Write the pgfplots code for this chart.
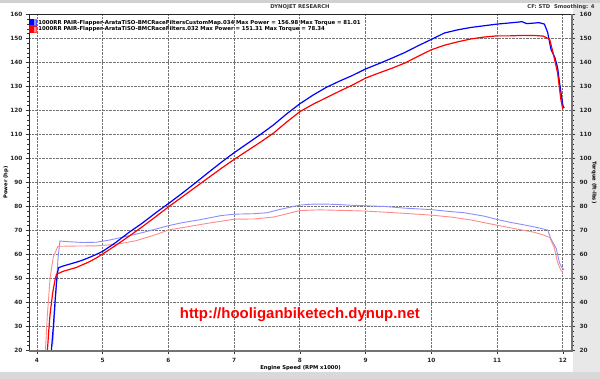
\documentclass[border=0pt]{standalone}
\usepackage{pgfplots}
\usepackage{pgfplotstable}
\pgfplotsset{compat=1.18}
\usepackage{fontspec}
\setmainfont{DejaVu Sans}
\newfontfamily\webfont{Liberation Sans}

\pgfplotstableread{
rpm hp
4.22 20
4.25 30
4.28 42
4.31 52
4.33 54.5
4.40 55.2
4.50 56.0
4.60 56.8
4.70 57.7
4.80 58.8
4.90 60.0
5.00 61.3
5.20 65.0
5.40 69.2
5.60 73.0
5.80 77.2
6.00 81.2
6.20 85.3
6.40 89.6
6.60 94.0
6.80 98.3
7.00 102.4
7.20 106.2
7.40 110.0
7.60 114.0
7.80 118.6
8.00 122.8
8.20 126.4
8.40 129.6
8.60 132.2
8.80 134.6
9.00 137.3
9.20 139.5
9.40 141.8
9.60 144.2
9.80 147.0
10.00 149.6
10.20 152.3
10.40 153.6
10.60 154.6
10.80 155.3
11.00 156.0
11.20 156.5
11.38 157.0
11.45 156.2
11.55 156.4
11.64 156.6
11.72 156.0
11.77 152.5
11.82 145.5
11.88 142.0
11.92 138.0
11.95 131.7
11.98 126.0
12.00 122.2
12.02 121.0
}\bluehp

\pgfplotstableread{
rpm hp
4.16 20
4.18 28
4.20 35
4.24 44
4.28 50
4.30 51.8
4.40 53.0
4.50 53.8
4.60 54.6
4.70 55.8
4.80 57.0
4.90 58.5
5.00 60.2
5.20 63.8
5.40 67.6
5.60 71.5
5.80 75.6
6.00 79.8
6.20 83.8
6.40 87.8
6.60 91.8
6.80 95.8
7.00 99.6
7.20 103.2
7.40 106.8
7.60 110.6
7.80 115.2
8.00 119.5
8.20 122.6
8.40 125.3
8.60 128.0
8.80 130.6
9.00 133.5
9.20 135.6
9.40 137.6
9.60 139.8
9.80 142.6
10.00 145.3
10.20 147.2
10.40 148.6
10.60 149.8
10.80 150.6
11.00 151.1
11.20 151.1
11.40 151.3
11.60 151.2
11.70 151.0
11.80 149.7
11.85 144.2
11.92 135.8
11.97 124.7
12.00 120.5
}\redhp

\pgfplotstableread{
rpm tq
4.24 22
4.28 40
4.32 58
4.35 65.6
4.50 65.3
4.70 65.0
4.90 65.1
5.10 66.0
5.30 67.2
5.50 68.4
5.70 69.8
6.00 72.0
6.20 73.2
6.50 74.6
6.80 76.2
7.00 76.8
7.30 77.0
7.50 77.4
7.70 78.8
8.00 80.6
8.20 81.0
8.40 81.0
8.60 80.8
8.80 80.5
9.00 80.3
9.30 80.0
9.60 79.3
9.80 79.0
10.00 78.7
10.25 78.0
10.50 77.4
10.80 76.0
11.00 74.6
11.20 73.4
11.40 72.4
11.60 71.3
11.77 70.2
11.82 66.5
11.86 64.5
11.90 62.5
11.95 56.5
11.98 54.8
12.02 53.5
}\bluetq

\pgfplotstableread{
rpm tq
4.13 20
4.16 35
4.20 50
4.25 59
4.32 63.4
4.50 63.5
4.90 63.6
5.20 64.2
5.50 65.7
5.80 68.2
6.00 70.2
6.30 71.6
6.60 73.0
7.00 74.7
7.30 74.8
7.60 75.6
8.00 78.3
8.30 78.6
8.60 78.4
9.00 78.1
9.50 77.3
10.00 76.4
10.30 75.6
10.60 74.4
11.00 72.2
11.30 70.6
11.54 69.4
11.70 68.2
11.80 67.1
11.87 62.9
11.92 56.7
11.97 53.5
12.00 52.5
}\redtq

\definecolor{lblue}{RGB}{140,140,255}
\definecolor{lred}{RGB}{255,140,140}

\begin{document}
\begin{tikzpicture}
% background
\fill[white] (-29bp,-28.5bp) rectangle (571bp,350.5bp);
\fill[black!9] (544bp,-21.5bp) rectangle (571bp,347.5bp);
\fill[black!18] (-29bp,347.5bp) rectangle (571bp,350.5bp);
\fill[black!15] (-29bp,-28.5bp) rectangle (571bp,-21.5bp);
\node[font=\bfseries\fontsize{5.3}{6}\selectfont, text=black!80] at (271bp,343bp) {DYNOJET RESEARCH};
\node[font=\bfseries\fontsize{5.3}{6}\selectfont, text=black!80, anchor=east] at (569bp,343bp) {CF: STD\ \ Smoothing: 4};

\begin{axis}[
  scale only axis, width=543bp, height=336bp,
  xmin=3.88, xmax=12.14, ymin=20, ymax=160,
  xtick={4,...,12}, ytick={20,30,...,160},
  minor x tick num=4, minor y tick num=4,
  tick align=outside,
  major tick length=3bp, minor tick length=1.5bp,
  tick style={black!80, line width=0.4bp},
  grid=major,
  major grid style={densely dotted, black!55, line width=0.7bp},
  axis line style={black!85, line width=0.6bp},
  /pgf/number format/assume math mode=true,
  ticklabel style={font=\bfseries\fontsize{5.8}{6}\selectfont, text=black!85},
  xticklabel style={yshift=-1bp},
  ytick pos=left, xtick pos=bottom,
  ylabel={Power (hp)},
  ylabel style={at={(axis description cs:-0.0424,0.5)}, anchor=center, font=\bfseries\fontsize{5.2}{6}\selectfont},
  xlabel={Engine Speed (RPM x1000)},
  xlabel style={at={(axis description cs:0.5,-0.052)}, anchor=center, font=\bfseries\fontsize{5.3}{6}\selectfont},
  legend style={at={(axis description cs:0,1)}, anchor=north west, draw=none, fill=none,
    font=\bfseries\fontsize{5.4}{6}\selectfont, row sep=-2.2bp, inner sep=0pt, yshift=-4.5bp,
    nodes={inner sep=1bp}},
  legend cell align=left,
  legend image code/.code={%
    \fill (0bp,-3.5bp) rectangle (3.3bp,3.5bp);
    \fill[opacity=0.45] (3.3bp,-3.5bp) rectangle (7bp,3.5bp);},
]
\addplot[lblue, line width=0.9bp, forget plot] table[x=rpm,y=tq] {\bluetq};
\addplot[lred, line width=0.9bp, forget plot] table[x=rpm,y=tq] {\redtq};
\addplot[blue, line width=1.2bp] table[x=rpm,y=hp] {\bluehp};
\addlegendentry{1000RR PAIR-Flapper-ArataTiSO-BMCRaceFiltersCustomMap.034 Max Power = 156.98 Max Torque = 81.01}
\addplot[red, line width=1.2bp] table[x=rpm,y=hp] {\redhp};
\addlegendentry{1000RR PAIR-Flapper-ArataTiSO-BMCRaceFilters.032 Max Power = 151.31 Max Torque = 78.34}
\node[text=red, font=\webfont\bfseries\fontsize{15}{15}\selectfont] at (axis cs:8,35) {http://hooliganbiketech.dynup.net};
\end{axis}

\begin{axis}[
  scale only axis, width=543bp, height=336bp,
  xmin=3.88, xmax=12.14, ymin=20, ymax=160,
  axis x line=none, axis y line*=right,
  ytick={20,30,...,160}, minor y tick num=4,
  tick align=outside,
  major tick length=3bp, minor tick length=1.5bp,
  tick style={black!80, line width=0.4bp},
  axis line style={black!55, line width=2.5bp},
  /pgf/number format/assume math mode=true,
  ticklabel style={font=\bfseries\fontsize{5.8}{6}\selectfont, text=black!85},
  yticklabel style={xshift=1bp},
  ylabel={Torque (ft-lbs)},
  ylabel style={at={(axis description cs:1.0405,0.5)}, anchor=center, rotate=180, font=\bfseries\fontsize{5.2}{6}\selectfont},
]
\end{axis}
\draw[black!55, line width=1.6bp] (-0.5bp,-0.8bp) -- (544bp,-0.8bp);
\pgfresetboundingbox
\path[use as bounding box] (-29bp,-28.5bp) rectangle (571bp,350.5bp);
\end{tikzpicture}
\end{document}
